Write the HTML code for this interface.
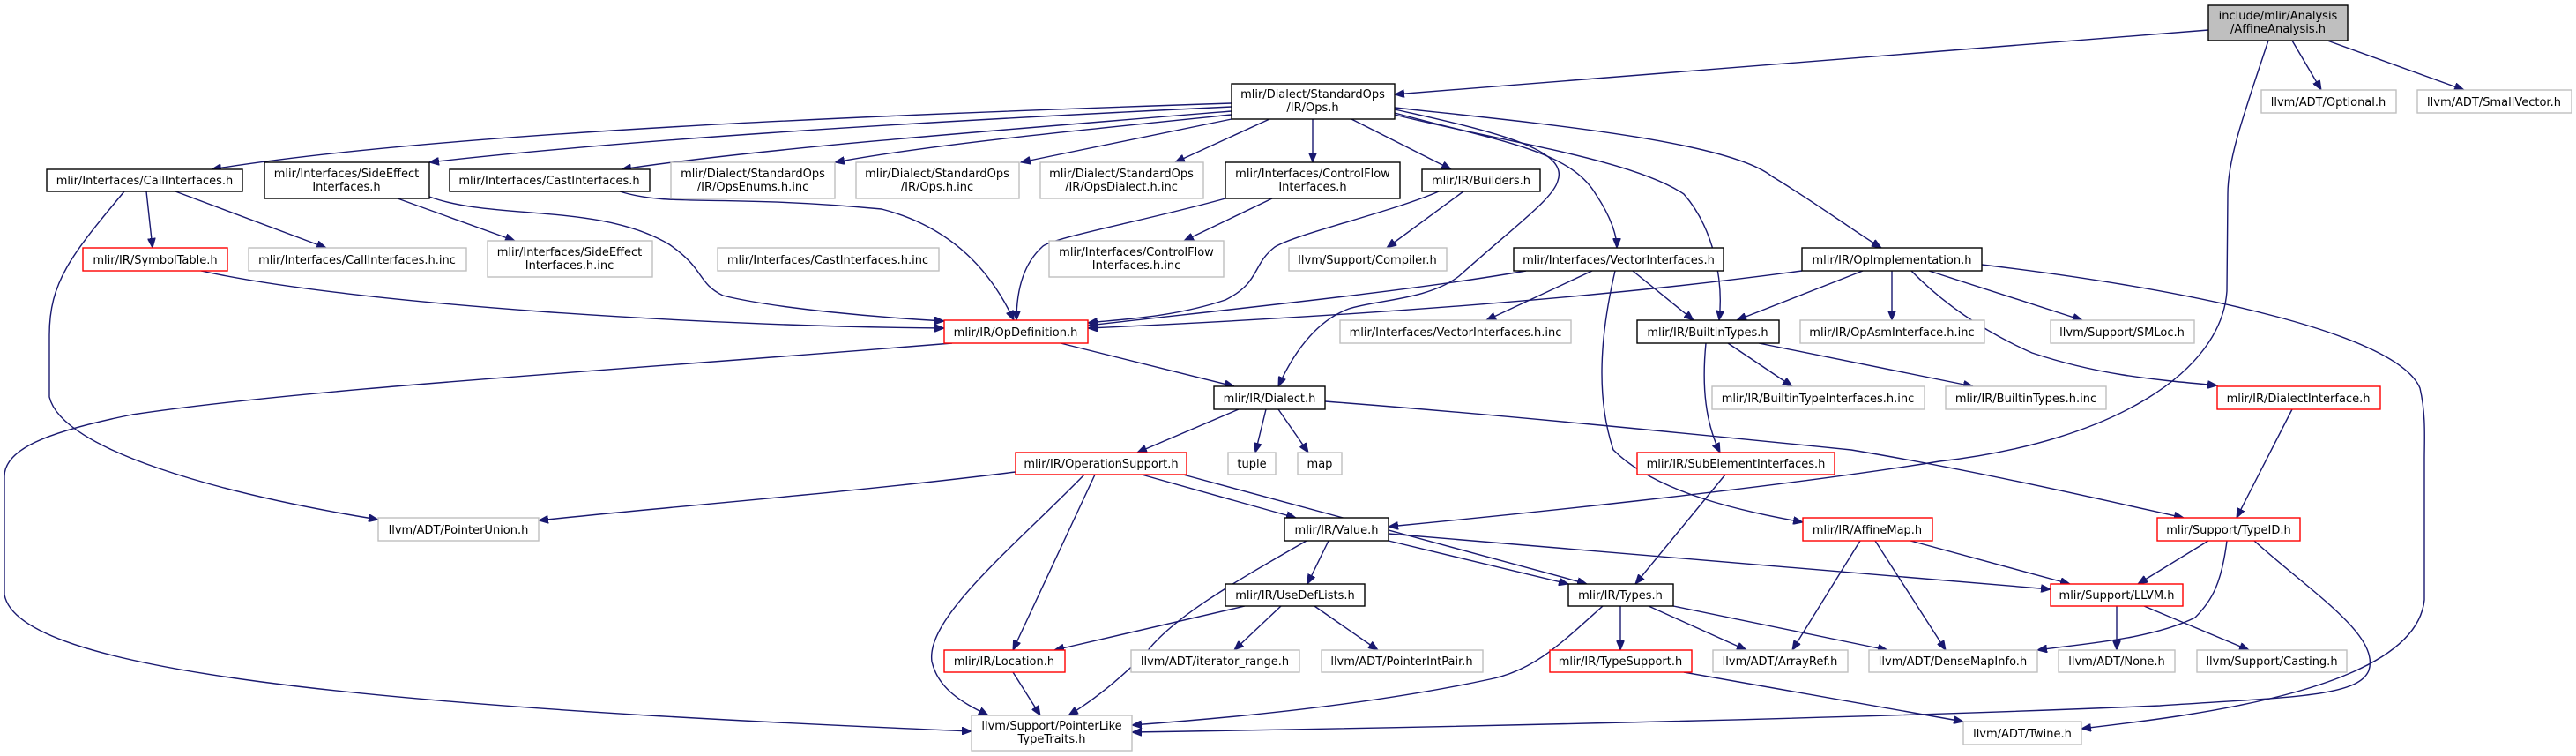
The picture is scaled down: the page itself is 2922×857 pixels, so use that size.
<!DOCTYPE html>
<html><head><meta charset="utf-8"><style>
html,body{margin:0;padding:0;background:#fff;}
svg{display:block;}
text{font-family:"DejaVu Sans","Liberation Sans",sans-serif;font-size:13px;fill:#000;text-anchor:middle;}
.b{fill:#fff;stroke:#000;stroke-width:1.4;}
.g{fill:#fff;stroke:#bfbfbf;stroke-width:1.4;}
.r{fill:#fff;stroke:#ff0000;stroke-width:1.4;}
.e{fill:none;stroke:#191970;stroke-width:1.4;marker-end:url(#a);}
</style></head><body>
<svg width="2922" height="857" viewBox="0 0 2922 857" xmlns="http://www.w3.org/2000/svg">
<defs><marker id="a" markerUnits="userSpaceOnUse" markerWidth="12" markerHeight="9" refX="11" refY="4.5" orient="auto"><path d="M0,0 L11,4.5 L0,9 z" fill="#191970" stroke="#191970"/></marker></defs>

<!-- edges -->
<path class="e" d="M2505,34 L1582,107"/>
<path class="e" d="M2600,46 L2633,102"/>
<path class="e" d="M2640,46 L2795,102"/>
<path class="e" d="M2573,46 C2545,130 2527,180 2527,220 L2526,330 C2520,420 2400,500 2200,523 C2000,555 1700,585 1575,597"/>
<path class="e" d="M1397,117 C1000,130 500,150 240,192"/>
<path class="e" d="M1397,121 C1000,140 700,160 487,184"/>
<path class="e" d="M1397,126 C1100,150 850,170 705,192"/>
<path class="e" d="M1397,130 C1200,150 1050,165 947,184"/>
<path class="e" d="M1397,135 L1158,184"/>
<path class="e" d="M1440,135 L1333,184"/>
<path class="e" d="M1489,135 L1489,184"/>
<path class="e" d="M1533,135 L1646,192"/>
<path class="e" d="M1582,124 C1700,150 1780,170 1767,205 C1762,225 1720,255 1655,313 C1620,340 1560,340 1530,350 C1490,365 1465,405 1450,438"/>
<path class="e" d="M1582,128 C1700,160 1780,170 1810,220 C1830,250 1834,270 1834,281"/>
<path class="e" d="M1582,130 C1700,160 1850,180 1910,220 C1945,260 1955,320 1950,363"/>
<path class="e" d="M1582,122 C1750,140 1960,160 2010,200 C2060,230 2100,260 2134,281"/>
<path class="e" d="M166,217 L173,281"/>
<path class="e" d="M199,217 L370,281"/>
<path class="e" d="M141,217 C80,290 56,320 56,380 L56,450 C70,510 250,560 429,589"/>
<path class="e" d="M451,225 L584,273"/>
<path class="e" d="M487,223 C560,250 680,230 759,277 C800,305 790,320 820,335 C880,350 1000,360 1071,364"/>
<path class="e" d="M703,217 C760,235 820,220 1000,237 C1090,260 1130,320 1150,363"/>
<path class="e" d="M228,307 C400,345 800,370 1071,372"/>
<path class="e" d="M1443,225 L1343,273"/>
<path class="e" d="M1390,225 C1300,250 1190,270 1182,280 C1160,300 1153,330 1153,363"/>
<path class="e" d="M1632,217 C1580,240 1470,265 1446,280 C1420,300 1430,320 1390,340 C1330,360 1270,362 1234,366"/>
<path class="e" d="M1660,217 L1573,281"/>
<path class="e" d="M1731,307 C1600,330 1400,350 1234,369"/>
<path class="e" d="M1806,307 L1686,363"/>
<path class="e" d="M1852,307 L1921,363"/>
<path class="e" d="M1832,307 C1815,380 1810,450 1830,510 C1880,560 1980,580 2045,592"/>
<path class="e" d="M2044,307 C1800,340 1500,360 1234,372"/>
<path class="e" d="M2113,307 L1970,363"/>
<path class="e" d="M2146,307 L2146,363"/>
<path class="e" d="M2188,307 L2362,363"/>
<path class="e" d="M2168,307 C2210,350 2260,380 2305,400 C2380,425 2440,430 2515,437"/>
<path class="e" d="M2248,300 C2500,330 2720,380 2745,440 C2752,470 2750,500 2750,520 L2750,680 C2740,780 2500,810 2361,826"/>
<path class="e" d="M1203,389 L1400,438"/>
<path class="e" d="M1080,389 C700,420 350,440 150,470 C50,490 5,510 5,540 L5,674 C20,760 400,800 1102,829"/>
<path class="e" d="M1935,389 C1930,440 1935,480 1951,513"/>
<path class="e" d="M1960,389 L2033,438"/>
<path class="e" d="M1995,389 L2238,438"/>
<path class="e" d="M1405,464 L1290,513"/>
<path class="e" d="M1436,464 L1424,513"/>
<path class="e" d="M1450,464 L1484,513"/>
<path class="e" d="M1503,455 C1700,470 1900,490 2100,510 C2250,535 2400,570 2477,587"/>
<path class="e" d="M2600,464 L2537,587"/>
<path class="e" d="M1957,538 L1855,662"/>
<path class="e" d="M1152,535 C950,560 750,575 611,590"/>
<path class="e" d="M1295,538 L1470,587"/>
<path class="e" d="M1342,538 C1500,580 1650,620 1800,662"/>
<path class="e" d="M1242,538 L1149,737"/>
<path class="e" d="M1230,538 C1150,620 1050,700 1057,750 C1065,785 1100,800 1121,811"/>
<path class="e" d="M1507,613 L1483,662"/>
<path class="e" d="M1575,613 L1779,662"/>
<path class="e" d="M1575,605 L2326,668"/>
<path class="e" d="M1482,613 C1400,660 1330,700 1300,740 C1260,780 1230,800 1212,811"/>
<path class="e" d="M1412,687 L1196,737"/>
<path class="e" d="M1453,687 L1400,737"/>
<path class="e" d="M1491,687 L1563,737"/>
<path class="e" d="M1818,687 C1770,730 1740,760 1690,770 C1550,800 1380,815 1284,822"/>
<path class="e" d="M1838,687 L1838,737"/>
<path class="e" d="M1870,687 L1981,737"/>
<path class="e" d="M1898,687 L2141,737"/>
<path class="e" d="M1149,762 L1180,811"/>
<path class="e" d="M1910,762 L2227,818"/>
<path class="e" d="M2110,613 L2033,737"/>
<path class="e" d="M2127,613 L2207,737"/>
<path class="e" d="M2167,613 L2348,662"/>
<path class="e" d="M2505,613 L2425,662"/>
<path class="e" d="M2526,613 C2520,660 2510,680 2490,700 C2440,725 2360,730 2311,737"/>
<path class="e" d="M2557,613 C2620,670 2700,720 2687,760 C2675,790 2600,790 2450,800 C2100,815 1600,825 1284,830"/>
<path class="e" d="M2401,687 L2401,737"/>
<path class="e" d="M2432,687 L2551,737"/>

<!-- nodes -->
<rect x="2505" y="6" width="158" height="40" fill="#bfbfbf" stroke="#000" stroke-width="1.4"/>
<text x="2584" y="22">include/mlir/Analysis</text><text x="2584" y="37">/AffineAnalysis.h</text>
<rect class="g" x="2565" y="102" width="153" height="26"/><text x="2641" y="120">llvm/ADT/Optional.h</text>
<rect class="g" x="2742" y="102" width="175" height="26"/><text x="2829" y="120">llvm/ADT/SmallVector.h</text>

<rect class="b" x="1397" y="95" width="185" height="40"/>
<text x="1489" y="111">mlir/Dialect/StandardOps</text><text x="1489" y="126">/IR/Ops.h</text>

<rect class="b" x="53" y="192" width="222" height="25"/><text x="164" y="209">mlir/Interfaces/CallInterfaces.h</text>
<rect class="b" x="300" y="184" width="187" height="41"/><text x="393" y="201">mlir/Interfaces/SideEffect</text><text x="393" y="216">Interfaces.h</text>
<rect class="b" x="510" y="192" width="227" height="25"/><text x="623" y="209">mlir/Interfaces/CastInterfaces.h</text>
<rect class="g" x="761" y="184" width="186" height="41"/><text x="854" y="201">mlir/Dialect/StandardOps</text><text x="854" y="216">/IR/OpsEnums.h.inc</text>
<rect class="g" x="971" y="184" width="185" height="41"/><text x="1063" y="201">mlir/Dialect/StandardOps</text><text x="1063" y="216">/IR/Ops.h.inc</text>
<rect class="g" x="1180" y="184" width="185" height="41"/><text x="1272" y="201">mlir/Dialect/StandardOps</text><text x="1272" y="216">/IR/OpsDialect.h.inc</text>
<rect class="b" x="1390" y="184" width="198" height="41"/><text x="1489" y="201">mlir/Interfaces/ControlFlow</text><text x="1489" y="216">Interfaces.h</text>
<rect class="b" x="1613" y="192" width="134" height="25"/><text x="1680" y="209">mlir/IR/Builders.h</text>

<rect class="r" x="94" y="281" width="164" height="26"/><text x="176" y="299">mlir/IR/SymbolTable.h</text>
<rect class="g" x="282" y="281" width="247" height="26"/><text x="405" y="299">mlir/Interfaces/CallInterfaces.h.inc</text>
<rect class="g" x="553" y="273" width="187" height="41"/><text x="646" y="290">mlir/Interfaces/SideEffect</text><text x="646" y="305">Interfaces.h.inc</text>
<rect class="g" x="814" y="281" width="251" height="26"/><text x="939" y="299">mlir/Interfaces/CastInterfaces.h.inc</text>
<rect class="g" x="1190" y="273" width="198" height="41"/><text x="1289" y="290">mlir/Interfaces/ControlFlow</text><text x="1289" y="305">Interfaces.h.inc</text>
<rect class="g" x="1462" y="281" width="179" height="26"/><text x="1551" y="299">llvm/Support/Compiler.h</text>
<rect class="b" x="1717" y="281" width="238" height="26"/><text x="1836" y="299">mlir/Interfaces/VectorInterfaces.h</text>
<rect class="b" x="2044" y="281" width="204" height="26"/><text x="2146" y="299">mlir/IR/OpImplementation.h</text>

<rect class="r" x="1071" y="363" width="163" height="26"/><text x="1152" y="381">mlir/IR/OpDefinition.h</text>
<rect class="g" x="1520" y="363" width="262" height="26"/><text x="1651" y="381">mlir/Interfaces/VectorInterfaces.h.inc</text>
<rect class="b" x="1857" y="363" width="161" height="26"/><text x="1937" y="381">mlir/IR/BuiltinTypes.h</text>
<rect class="g" x="2042" y="363" width="209" height="26"/><text x="2146" y="381">mlir/IR/OpAsmInterface.h.inc</text>
<rect class="g" x="2326" y="363" width="163" height="26"/><text x="2407" y="381">llvm/Support/SMLoc.h</text>

<rect class="b" x="1377" y="438" width="126" height="26"/><text x="1440" y="456">mlir/IR/Dialect.h</text>
<rect class="g" x="1942" y="438" width="241" height="26"/><text x="2062" y="456">mlir/IR/BuiltinTypeInterfaces.h.inc</text>
<rect class="g" x="2207" y="438" width="182" height="26"/><text x="2298" y="456">mlir/IR/BuiltinTypes.h.inc</text>
<rect class="r" x="2515" y="438" width="185" height="26"/><text x="2607" y="456">mlir/IR/DialectInterface.h</text>

<rect class="r" x="1152" y="513" width="194" height="25"/><text x="1249" y="530">mlir/IR/OperationSupport.h</text>
<rect class="g" x="1393" y="513" width="54" height="25"/><text x="1420" y="530">tuple</text>
<rect class="g" x="1472" y="513" width="50" height="25"/><text x="1497" y="530">map</text>
<rect class="r" x="1857" y="513" width="224" height="25"/><text x="1969" y="530">mlir/IR/SubElementInterfaces.h</text>

<rect class="g" x="429" y="587" width="182" height="26"/><text x="520" y="605">llvm/ADT/PointerUnion.h</text>
<rect class="b" x="1457" y="587" width="118" height="26"/><text x="1516" y="605">mlir/IR/Value.h</text>
<rect class="r" x="2045" y="587" width="147" height="26"/><text x="2118" y="605">mlir/IR/AffineMap.h</text>
<rect class="r" x="2447" y="587" width="162" height="26"/><text x="2528" y="605">mlir/Support/TypeID.h</text>

<rect class="b" x="1390" y="662" width="158" height="25"/><text x="1469" y="679">mlir/IR/UseDefLists.h</text>
<rect class="b" x="1779" y="662" width="119" height="25"/><text x="1838" y="679">mlir/IR/Types.h</text>
<rect class="r" x="2326" y="662" width="150" height="25"/><text x="2401" y="679">mlir/Support/LLVM.h</text>

<rect class="r" x="1071" y="737" width="137" height="25"/><text x="1139" y="754">mlir/IR/Location.h</text>
<rect class="g" x="1283" y="737" width="191" height="25"/><text x="1378" y="754">llvm/ADT/iterator_range.h</text>
<rect class="g" x="1499" y="737" width="183" height="25"/><text x="1590" y="754">llvm/ADT/PointerIntPair.h</text>
<rect class="r" x="1758" y="737" width="161" height="25"/><text x="1838" y="754">mlir/IR/TypeSupport.h</text>
<rect class="g" x="1943" y="737" width="153" height="25"/><text x="2019" y="754">llvm/ADT/ArrayRef.h</text>
<rect class="g" x="2120" y="737" width="191" height="25"/><text x="2215" y="754">llvm/ADT/DenseMapInfo.h</text>
<rect class="g" x="2335" y="737" width="132" height="25"/><text x="2401" y="754">llvm/ADT/None.h</text>
<rect class="g" x="2492" y="737" width="170" height="25"/><text x="2577" y="754">llvm/Support/Casting.h</text>

<rect class="g" x="1102" y="811" width="182" height="40"/><text x="1193" y="827">llvm/Support/PointerLike</text><text x="1193" y="842">TypeTraits.h</text>
<rect class="g" x="2227" y="818" width="134" height="26"/><text x="2294" y="836">llvm/ADT/Twine.h</text>
</svg>
</body></html>
